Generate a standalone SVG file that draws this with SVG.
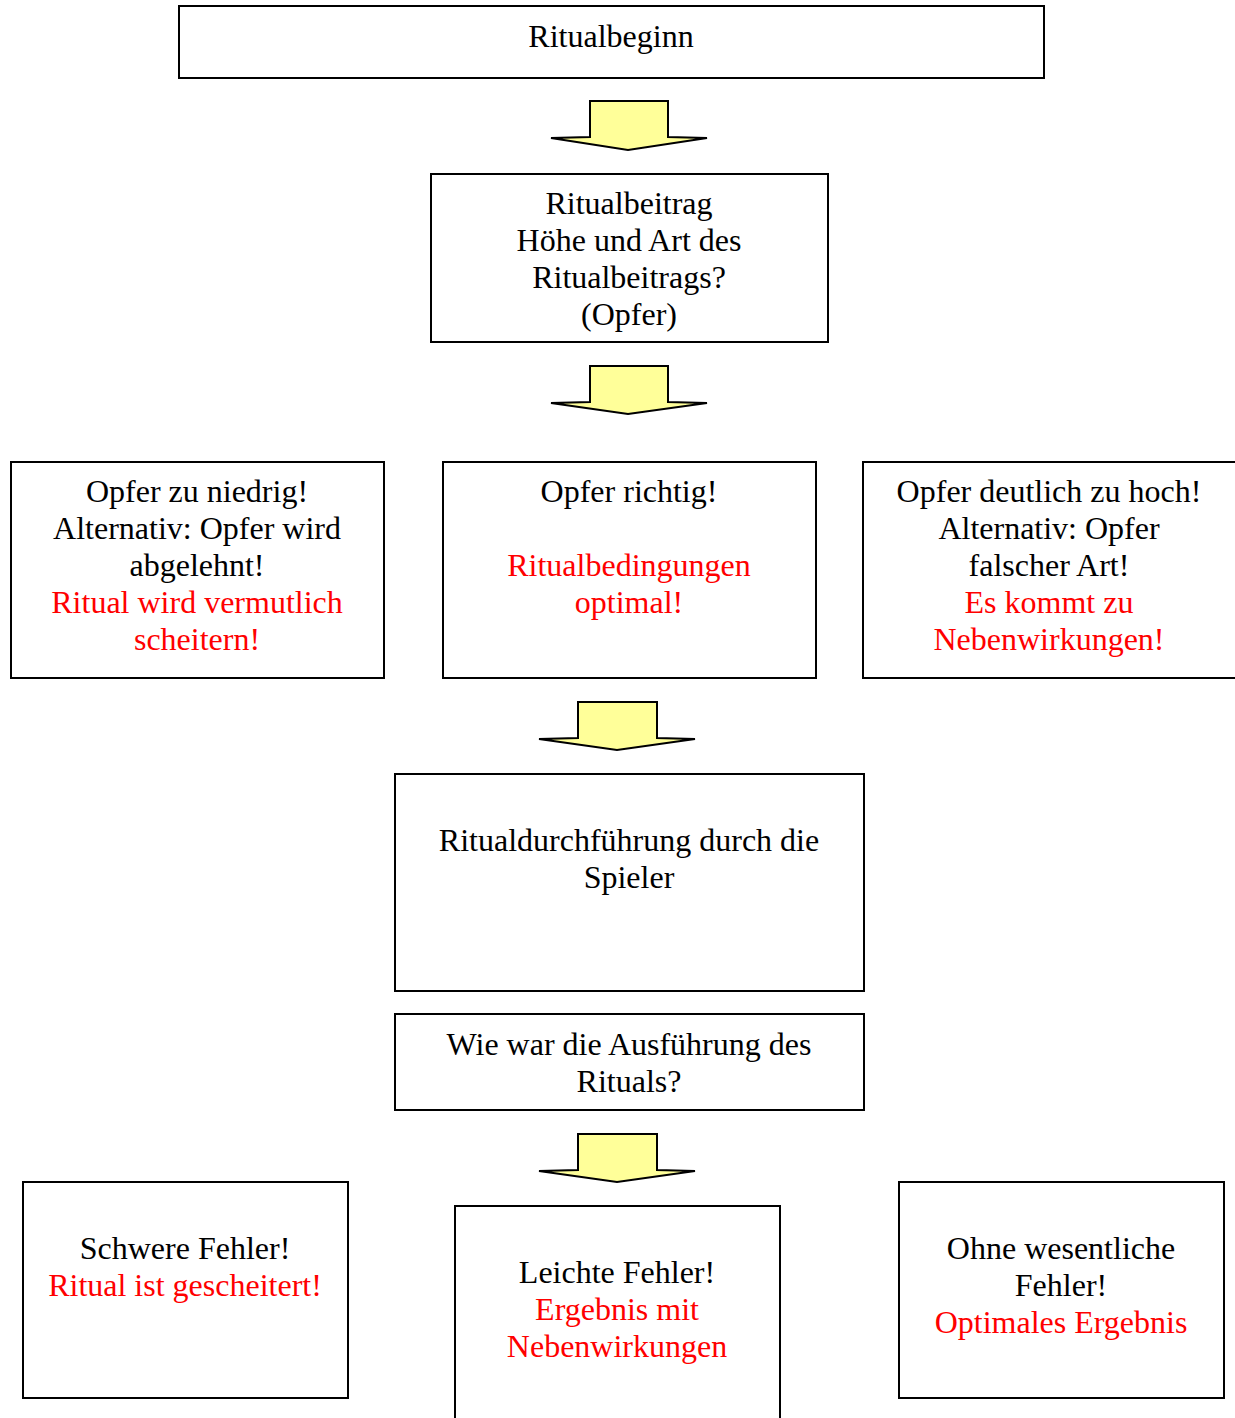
<svg xmlns="http://www.w3.org/2000/svg" width="1235" height="1418" viewBox="0 0 1235 1418">
<style>
.box{fill:#fff;stroke:#000;stroke-width:2}
.arr{fill:#ffff99;stroke:#000;stroke-width:2;stroke-linejoin:miter}
text{font-family:"Liberation Serif","Times New Roman",serif;font-size:32px;text-anchor:middle;fill:#000}
.r{fill:#ff0000}
</style>
<rect width="1235" height="1418" fill="#fff"/>
<g id="connectors">
<polygon class="arr" points="590,101 668,101 668,137 707,138 628,150 551,138 590,137"/>
<polygon class="arr" points="590,366 668,366 668,402 707,403 628,414 551,403 590,402"/>
<polygon class="arr" points="578,702 657,702 657,738 695,739 617,750 539,739 578,738"/>
<polygon class="arr" points="578,1134 657,1134 657,1170 695,1171 617,1182 539,1171 578,1170"/>
</g>
<g id="n1"><rect class="box" x="179" y="6" width="865" height="72"/>
<text x="611" y="47">Ritualbeginn</text></g>
<g id="n2"><rect class="box" x="431" y="174" width="397" height="168"/>
<text x="629" y="214">Ritualbeitrag</text>
<text x="629" y="251">Höhe und Art des</text>
<text x="629" y="288">Ritualbeitrags?</text>
<text x="629" y="325">(Opfer)</text></g>
<g id="n3"><rect class="box" x="11" y="462" width="373" height="216"/>
<text x="197" y="502">Opfer zu niedrig!</text>
<text x="197" y="539">Alternativ: Opfer wird</text>
<text x="197" y="576">abgelehnt!</text>
<text class="r" x="197" y="613">Ritual wird vermutlich</text>
<text class="r" x="197" y="650">scheitern!</text></g>
<g id="n4"><rect class="box" x="443" y="462" width="373" height="216"/>
<text x="629" y="502">Opfer richtig!</text>
<text class="r" x="629" y="576">Ritualbedingungen</text>
<text class="r" x="629" y="613">optimal!</text></g>
<g id="n5"><rect class="box" x="863" y="462" width="374" height="216"/>
<text x="1049" y="502">Opfer deutlich zu hoch!</text>
<text x="1049" y="539">Alternativ: Opfer</text>
<text x="1049" y="576">falscher Art!</text>
<text class="r" x="1049" y="613">Es kommt zu</text>
<text class="r" x="1049" y="650">Nebenwirkungen!</text></g>
<g id="n6"><rect class="box" x="395" y="774" width="469" height="217"/>
<text x="629" y="851">Ritualdurchführung durch die</text>
<text x="629" y="888">Spieler</text></g>
<g id="n7"><rect class="box" x="395" y="1014" width="469" height="96"/>
<text x="629" y="1055">Wie war die Ausführung des</text>
<text x="629" y="1092">Rituals?</text></g>
<g id="n8"><rect class="box" x="23" y="1182" width="325" height="216"/>
<text x="185" y="1259">Schwere Fehler!</text>
<text class="r" x="185" y="1296">Ritual ist gescheitert!</text></g>
<g id="n9"><rect class="box" x="455" y="1206" width="325" height="216"/>
<text x="617" y="1283">Leichte Fehler!</text>
<text class="r" x="617" y="1320">Ergebnis mit</text>
<text class="r" x="617" y="1357">Nebenwirkungen</text></g>
<g id="n10"><rect class="box" x="899" y="1182" width="325" height="216"/>
<text x="1061" y="1259">Ohne wesentliche</text>
<text x="1061" y="1296">Fehler!</text>
<text class="r" x="1061" y="1333">Optimales Ergebnis</text></g>
</svg>
